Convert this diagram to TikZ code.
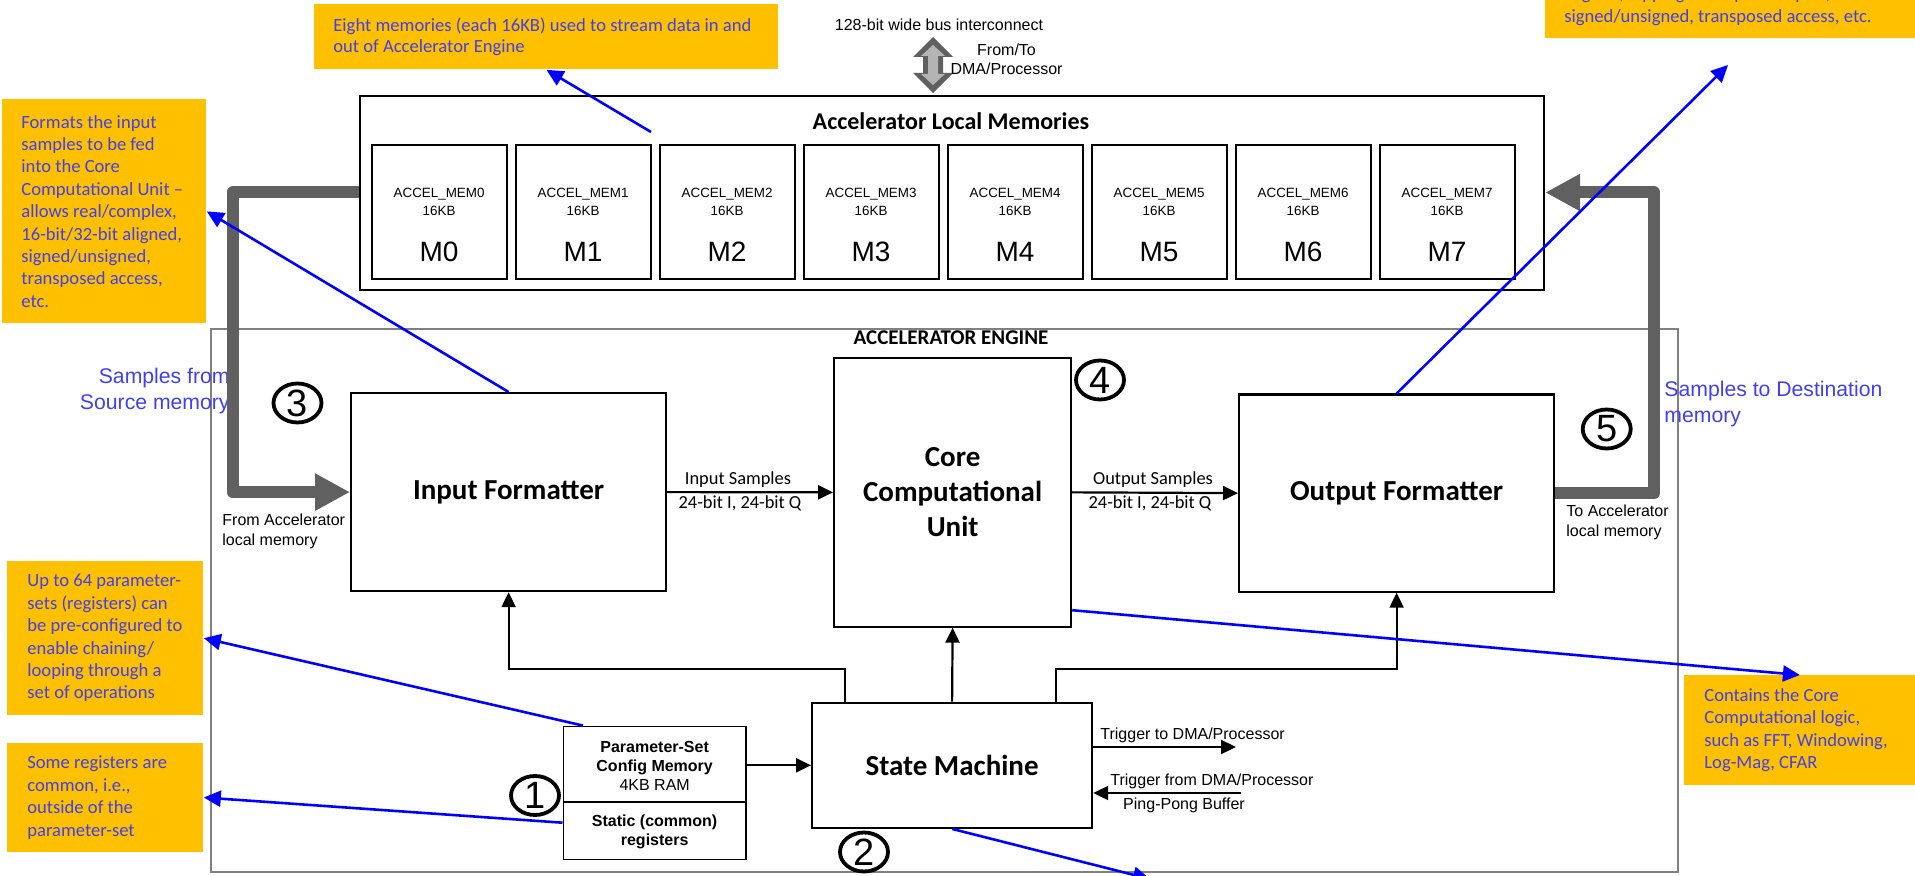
\documentclass[tikz,border=0pt]{standalone}
\usepackage{fontspec}
\setmainfont{Carlito}
\newfontfamily\arial{Liberation Sans}
\usetikzlibrary{arrows.meta,shapes.geometric,calc}

\definecolor{noteorange}{HTML}{FFC000}
\definecolor{notetext}{HTML}{4040EE}
\definecolor{callblue}{HTML}{0000FF}
\definecolor{busgray}{HTML}{606060}
\definecolor{enginegray}{HTML}{808080}
\definecolor{lightbus}{HTML}{B4B4B4}

\begin{document}
\begin{tikzpicture}[x=0.5pt,y=-0.5pt,
  note/.style={fill=noteorange, draw=none, inner sep=0pt, anchor=north west},
  notetxt/.style={anchor=west, align=left, inner sep=0pt, text=notetext,
    font=\fontsize{9.3}{11.2}\selectfont},
  blk/.style={draw=black, line width=1.1pt, fill=white, inner sep=0pt, anchor=north west},
  memblk/.style={draw=black, line width=1.1pt, inner sep=0pt, anchor=north west,
    minimum width=67.5pt, minimum height=67pt},
  bigtxt/.style={font=\bfseries\fontsize{14.5}{17.5}\selectfont, align=center, inner sep=0pt},
  lab/.style={font=\arial\fontsize{8}{9.75}\selectfont, inner sep=0pt},
  memlab/.style={font=\arial\fontsize{6.7}{8}\selectfont, inner sep=0pt},
  memnum/.style={font=\arial\fontsize{14}{16}\selectfont, inner sep=0pt},
  sidelab/.style={font=\arial\fontsize{10.6}{13}\selectfont, text=notetext, inner sep=0pt},
  numcirc/.style={draw=black, line width=1.9pt, ellipse, inner sep=0pt,
    minimum width=24pt, minimum height=19.5pt},
  numtxt/.style={font=\arial\fontsize{19}{20}\selectfont, inner sep=0pt},
  arr/.style={draw=black, line width=1.1pt, -{Triangle[length=7.5pt,width=7pt]}},
  barr/.style={draw=callblue, line width=1.3pt, -{Triangle[length=8.5pt,width=8pt]}},
  graybar/.style={draw=busgray, line width=6pt, line join=round,
    -{Triangle[length=17.5pt,width=17.5pt]}}
]
\useasboundingbox (0,0) rectangle (1915,876);
\begin{scope}
\clip (0,0) rectangle (1915,876);

% ---------- callout notes ----------
\node[note, minimum width=232pt, minimum height=32.5pt] (neight) at (314,4) {};
\node[notetxt, font=\fontsize{9.3}{10.6}\selectfont] at ([xshift=9.5pt]neight.west)
  {Eight memories (each 16KB) used to stream data in and\\out of Accelerator Engine};

\node[note, minimum width=102pt, minimum height=112pt] (nfmt) at (2,99) {};
\node[notetxt] at ([xshift=9.5pt]nfmt.west)
  {Formats the input\\samples to be fed\\into the Core\\Computational Unit --\\allows real/complex,\\16-bit/32-bit aligned,\\signed/unsigned,\\transposed access,\\etc.};

\node[note, minimum width=185pt, minimum height=31.85pt] (nofmt) at (1545,-26) {};
\node[notetxt] at ([xshift=9.5pt]nofmt.west)
  {aligned, flipping of output samples,\\signed/unsigned, transposed access, etc.};

\node[note, minimum width=98pt, minimum height=77.25pt] (nparam) at (7,560.5) {};
\node[notetxt] at ([xshift=10pt]nparam.west)
  {Up to 64 parameter-\\sets (registers) can\\be pre-configured to\\enable chaining/\\looping through a\\set of operations};

\node[note, minimum width=98pt, minimum height=54.7pt] (nstatic) at (7,742.4) {};
\node[notetxt] at ([xshift=10pt]nstatic.west)
  {Some registers are\\common, i.e.,\\outside of the\\parameter-set};

\node[note, minimum width=115.5pt, minimum height=54.7pt] (ncore) at (1684,675) {};
\node[notetxt] at ([xshift=10pt]ncore.west)
  {Contains the Core\\Computational logic,\\such as FFT, Windowing,\\Log-Mag, CFAR};

% ---------- accelerator engine frame ----------
\node[draw=enginegray, line width=1pt, inner sep=0pt, anchor=north west,
  minimum width=733.5pt, minimum height=271.5pt] (engine) at (210,328) {};
\node[font=\bfseries\fontsize{10.5}{12}\selectfont, inner sep=0pt] at (951,338) {ACCELERATOR ENGINE};

% ---------- local memories ----------
\node[blk, minimum width=592pt, minimum height=97pt] (lmem) at (359,95) {};
\node[font=\bfseries\fontsize{12}{14}\selectfont, inner sep=0pt] at (951,121) {Accelerator Local Memories};
\foreach \i in {0,...,7}{
  \node[memblk] (m\i) at ({370.5+144*\i},144) {};
  \node[memlab] at ($(m\i.north)+(0,50)$) {ACCEL\_MEM\i};
  \node[memlab] at ($(m\i.north)+(0,67)$) {16KB};
  \node[memnum] at ($(m\i.north)+(0,108)$) {M\i};
}

% bus interconnect
\fill[busgray] (933,37) -- (953,57) -- (943,57) -- (943,73) -- (953,73) -- (933,93)
  -- (913,73) -- (923,73) -- (923,57) -- (913,57) -- cycle;
\fill[lightbus] (933,45) -- (945,56) -- (938,56) -- (938,74) -- (945,74) -- (933,85)
  -- (921,74) -- (928,74) -- (928,56) -- (921,56) -- cycle;
\node[lab] at (939,25) {128-bit wide bus interconnect};
\node[lab, align=center] at (1006.5,59.5) {From/To\\DMA/Processor};

% ---------- processing blocks ----------
\node[blk, minimum width=157.5pt, minimum height=99pt] (ifmt) at (350,392) {};
\node[bigtxt] at (ifmt.center) {Input Formatter};
\node[blk, minimum width=118.5pt, minimum height=134.25pt] (ccu) at (833,357) {};
\node[bigtxt] at (ccu.center) {Core\\Computational\\Unit};
\node[blk, minimum width=157.5pt, minimum height=98.5pt] (ofmt) at (1238,393.5) {};
\node[bigtxt] at (ofmt.center) {Output Formatter};
\node[blk, minimum width=140pt, minimum height=62.5pt] (sm) at (811,701.7) {};
\node[bigtxt] at (sm.center) {State Machine};

\node[blk, line width=0.9pt, minimum width=91.25pt, minimum height=37.7pt] (pset) at (562.5,725.6) {};
\node[font=\arial\fontsize{8}{9.5}\selectfont, align=center, inner sep=0pt] at ([yshift=-1pt]pset.center)
  {\bfseries Parameter-Set\\\bfseries Config Memory\\4KB RAM};
\node[blk, line width=0.9pt, minimum width=91.25pt, minimum height=28.8pt] (pstat) at (562.5,801) {};
\node[font=\arial\bfseries\fontsize{8}{9.5}\selectfont, align=center, inner sep=0pt] at ([yshift=-0.8pt]pstat.center)
  {Static (common)\\registers};

% ---------- data and control connectors ----------
\draw[arr] (ifmt.east) -- (ccu.west);
\draw[arr] (ccu.east) -- (ofmt.west);
\node[font=\fontsize{9.2}{11}\selectfont, inner sep=0pt] at (738,480) {Input Samples};
\node[font=\fontsize{9.2}{11}\selectfont, inner sep=0pt] at (740,503) {24-bit I, 24-bit Q};
\node[font=\fontsize{9.2}{11}\selectfont, inner sep=0pt] at (1153,480) {Output Samples};
\node[font=\fontsize{9.2}{11}\selectfont, inner sep=0pt] at (1150,503) {24-bit I, 24-bit Q};

\coordinate (jl) at (845,669);
\coordinate (jr) at (1056,669);
\draw[arr] (sm.north) -- (ccu.south);
\draw[arr] (jl |- sm.north) -- (jl) -| (ifmt.south);
\draw[arr] (jr |- sm.north) -- (jr) -| (ofmt.south);
\draw[arr] (sm.west -| pset.east) -- (sm.west);

\coordinate (trigto) at (1236,747);
\coordinate (trigfrom) at (1241,793);
\draw[arr] (trigto -| sm.east) -- (trigto);
\draw[arr] (trigfrom) -- (trigfrom -| sm.east);
\node[lab, anchor=west] at (1100,735) {Trigger to DMA/Processor};
\node[lab, anchor=west] at (1110,781) {Trigger from DMA/Processor};
\node[lab] at (1184,805.6) {Ping-Pong Buffer};

\node[lab, anchor=west, align=left, font=\arial\fontsize{8}{10}\selectfont] at (222,531) {From Accelerator\\local memory};
\node[lab, anchor=west, align=left, font=\arial\fontsize{8}{10}\selectfont] at (1566,522.5) {To Accelerator\\local memory};

\node[sidelab, anchor=east, align=right] at (230,391) {Samples from\\Source memory};
\node[sidelab, anchor=west, align=left] at (1664,404) {Samples to Destination\\memory};

% ---------- memory streaming paths ----------
\coordinate (lbus) at (232.5,192.5);
\coordinate (rbus) at (1654,192.5);
\draw[graybar] (lbus -| lmem.west) -- (lbus) |- (ifmt.west);
\draw[graybar] (ofmt.east) -| (rbus) -- (rbus -| lmem.east);

% ---------- step numbers ----------
\node[numcirc] (c1) at (535,795.5) {};
\node[numtxt] at (c1) {1};
\node[numcirc] (c2) at (864,852) {};
\node[numtxt] at (c2) {2};
\node[numcirc] (c3) at (297.5,403) {};
\node[numtxt] at (c3) {3};
\node[numcirc] (c4) at (1100,380) {};
\node[numtxt] at (c4) {4};
\node[numcirc] (c5) at (1606.7,429) {};
\node[numtxt] at (c5) {5};

% ---------- callout pointers ----------
\coordinate (memnote) at (651,132);
\coordinate (ofnote) at (1728,65);
\coordinate (smnote) at (1150,879);
\draw[barr] (memnote) -- (neight.south);
\draw[barr] (ifmt.north) -- (nfmt.east);
\draw[barr] (ofmt.north) -- (ofnote);
\draw[barr] ([yshift=8.75pt]ccu.south east) -- (ncore.north);
\draw[barr] ([xshift=10.25pt]pset.north west) -- (nparam.east);
\draw[barr] ([yshift=4pt]pstat.west) -- (nstatic.east);
\draw[barr] (sm.south) -- (smnote);
\end{scope}
\end{tikzpicture}
\end{document}
